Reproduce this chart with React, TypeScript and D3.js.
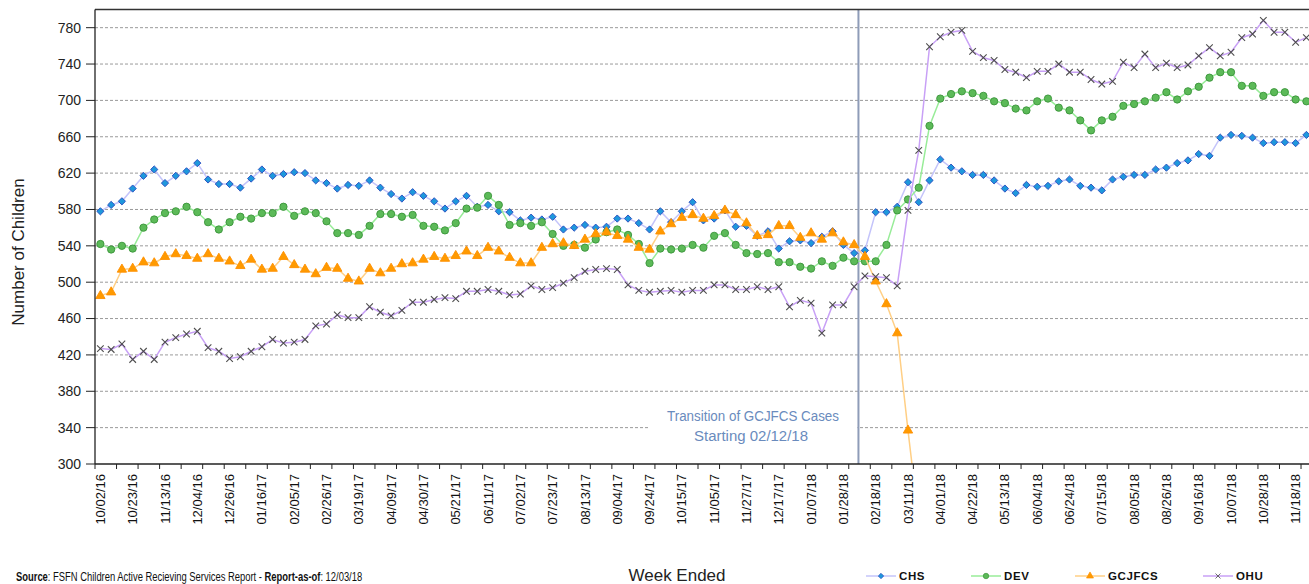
import React, { useLayoutEffect, useRef, useState } from 'react';
import * as d3 from 'd3';

const CHS = [578,585,589,603,617,624,609,617,622,631,613,608,608,604,614,624,617,619,621,620,612,609,603,607,606,612,604,597,592,599,595,589,581,589,595,583,585,578,577,568,571,569,572,558,560,563,560,561,570,570,565,558,578,566,578,588,568,570,579,561,562,551,556,537,545,546,543,550,556,541,532,535,577,577,583,610,588,612,635,626,622,618,618,612,603,598,607,605,606,611,613,606,604,601,613,616,618,618,624,626,631,634,641,639,659,662,661,659,653,654,654,653,662];
const DEV = [542,536,540,537,560,569,576,578,583,577,566,558,566,572,570,576,576,583,573,578,576,567,554,554,552,562,575,575,572,574,562,561,557,565,581,582,595,585,563,565,562,566,553,540,541,538,547,555,558,552,542,521,537,536,537,541,538,551,554,541,532,531,532,522,522,517,515,523,518,527,523,523,523,541,579,591,604,672,702,707,710,708,705,699,697,691,689,699,702,692,689,678,667,678,682,694,696,699,703,709,701,710,715,725,731,731,716,716,705,709,709,701,699];
const GCJFCS: (number | null)[] = [485,489,514,515,522,521,528,531,529,526,531,526,523,518,525,514,515,528,519,514,509,516,515,504,501,515,510,515,520,521,525,528,526,529,534,529,538,534,527,521,521,538,542,543,540,547,553,555,551,547,538,536,556,564,571,574,570,573,579,574,565,551,552,562,562,549,554,547,554,544,541,528,501,476,444,337,237,
  null,null,null,null,null,null,null,null,null,null,null,null,null,null,null,null,null,null,null,null,null,null,null,null,null,null,null,null,null,null,null,null,null,null,null,null];
const OHU = [427,426,432,415,424,415,434,439,443,446,428,424,416,418,424,429,437,433,434,437,452,454,464,461,461,473,467,463,469,478,478,481,483,482,490,490,492,490,486,487,496,492,494,499,505,512,514,515,514,497,491,489,490,491,489,491,491,497,497,492,492,495,492,495,473,480,477,444,475,475,495,507,506,505,496,579,645,759,770,775,777,754,747,744,734,731,725,732,732,740,731,731,723,718,721,742,736,751,736,741,736,739,749,758,749,753,769,773,788,775,775,764,769];

const X_TICK_LABELS = ['10/02/16','10/23/16','11/13/16','12/04/16','12/26/16','01/16/17','02/05/17','02/26/17','03/19/17','04/09/17','04/30/17','05/21/17','06/11/17','07/02/17','07/23/17','08/13/17','09/04/17','09/24/17','10/15/17','11/05/17','11/27/17','12/17/17','01/07/18','01/28/18','02/18/18','03/11/18','04/01/18','04/22/18','05/13/18','06/04/18','06/24/18','07/15/18','08/05/18','08/26/18','09/16/18','10/07/18','10/28/18','11/18/18'];
const Y_TICKS = [300,340,380,420,460,500,540,580,620,660,700,740,780];
const SERIES_NAMES = ['CHS','DEV','GCJFCS','OHU'];
const TRANSITION_POS = 70.4;

const N = CHS.length;
const FONT = "'Liberation Sans', Arial, sans-serif";

type Marker = 'diamond' | 'circle' | 'triangle' | 'x';
const STYLES: { line: string; fill: string; stroke: string; marker: Marker }[] = [
  { line: '#c4c4fa', fill: '#1e98dc', stroke: '#2b50c0', marker: 'diamond' },
  { line: '#98ec98', fill: '#5cba58', stroke: '#3a943a', marker: 'circle' },
  { line: '#ffcf85', fill: '#ff9a00', stroke: '#ff9000', marker: 'triangle' },
  { line: '#c8a0f6', fill: 'none', stroke: '#4e4e4e', marker: 'x' },
];

function markerPath(m: Marker): string {
  if (m === 'diamond') return d3.symbol(d3.symbolSquare, 26)() as string;
  if (m === 'circle') return d3.symbol(d3.symbolCircle, 42)() as string;
  if (m === 'triangle') return d3.symbol(d3.symbolTriangle, 38)() as string;
  return d3.symbol(d3.symbolX, 30)() as string;
}

function MarkerShape({ m, x, y, s }: { m: Marker; x: number; y: number; s: typeof STYLES[0] }) {
  const d = markerPath(m);
  const rot = m === 'diamond' ? ' rotate(45)' : '';
  return (
    <path
      d={d}
      transform={`translate(${x},${y})${rot}`}
      fill={s.fill}
      stroke={s.stroke}
      strokeWidth={m === 'x' ? 1.1 : 0.9}
    />
  );
}

function FittedText({ x, y, width, fontSize, children, fill }: { x: number; y: number; width: number; fontSize: number; children: React.ReactNode; fill: string }) {
  const ref = useRef<SVGTextElement>(null);
  const [sx, setSx] = useState(1);
  useLayoutEffect(() => {
    if (ref.current) {
      const w = ref.current.getBBox().width;
      if (w > 0) setSx(width / w);
    }
  }, [width]);
  return (
    <g transform={`translate(${x},${y}) scale(${sx},1)`}>
      <text ref={ref} x={0} y={0} fontSize={fontSize} fill={fill}>
        {children}
      </text>
    </g>
  );
}

export default function App() {
  const W = 1309, H = 584;
  const left = 95, top = 9.5, bottom = 464;
  const step = 10.768;
  const x = d3.scaleBand<number>().domain(d3.range(N)).range([left, left + N * step]);
  const cx = (i: number) => (x(i) as number) + x.bandwidth() / 2;
  const xLin = d3.scaleLinear().domain([0, N - 1]).range([cx(0), cx(N - 1)]);
  const y = d3.scaleLinear().domain([300, 800]).range([bottom, top]);

  const data = [CHS, DEV, GCJFCS, OHU] as (number | null)[][];
  const lineGen = d3
    .line<number | null>()
    .defined((d) => d != null)
    .x((_, i) => cx(i))
    .y((d) => y(d as number));

  const tickIdx = d3.range(0, N, 2);
  const labelIdx = X_TICK_LABELS.map((_, k) => k * 3);
  const transX = xLin(TRANSITION_POS);

  const legendItems = [
    { x1: 866, tx: 899 },
    { x1: 971, tx: 1004 },
    { x1: 1075, tx: 1108 },
    { x1: 1203, tx: 1236 },
  ];

  return (
    <svg width={W} height={H} style={{ position: 'absolute', left: 0, top: 0, display: 'block', background: '#fff' }} fontFamily={FONT}>
      <defs>
        <clipPath id="plotClip">
          <rect x={left} y={top} width={W - left} height={bottom - top} />
        </clipPath>
      </defs>
      <rect x={0} y={0} width={W} height={H} fill="#fff" />

      {/* gridlines */}
      {Y_TICKS.filter((t) => t > 300).map((t) => (
        <line key={t} x1={left} x2={W} y1={y(t)} y2={y(t)} stroke="#9a9a9a" strokeWidth={1} strokeDasharray="3,2" />
      ))}

      {/* transition annotation box */}
      <rect x={650} y={399} width={transX - 650 - 1} height={50} fill="#fff" />
      <text x={753} y={421} textAnchor="middle" fontSize={14} fill="#6a8bbd" textLength={172} lengthAdjust="spacingAndGlyphs">
        Transition of GCJFCS Cases
      </text>
      <text x={751} y={441} textAnchor="middle" fontSize={14} fill="#6a8bbd" textLength={114} lengthAdjust="spacingAndGlyphs">
        Starting 02/12/18
      </text>

      {/* transition vertical line */}
      <line x1={transX} x2={transX} y1={top} y2={bottom} stroke="#8e9cb8" strokeWidth={2} />

      {/* series */}
      <g clipPath="url(#plotClip)">
        {data.map((vals, si) => {
          const s = STYLES[si];
          return (
            <g key={SERIES_NAMES[si]}>
              <path d={lineGen(vals) as string} fill="none" stroke={s.line} strokeWidth={1.5} />
              {vals.map((v, i) =>
                v == null ? null : <MarkerShape key={i} m={s.marker} x={cx(i)} y={y(v)} s={s} />
              )}
            </g>
          );
        })}
      </g>

      {/* axes */}
      <line x1={left} x2={W} y1={top} y2={top} stroke="#333" strokeWidth={1.3} />
      <line x1={left} x2={left} y1={top} y2={bottom} stroke="#222" strokeWidth={1.3} />
      <line x1={left} x2={W} y1={bottom} y2={bottom} stroke="#222" strokeWidth={1.3} />
      {Y_TICKS.map((t) => (
        <g key={t}>
          <line x1={left - 9} x2={left} y1={y(t)} y2={y(t)} stroke="#222" strokeWidth={1} />
          <text x={81} y={y(t)} dy="0.35em" textAnchor="end" fontSize={14} fill="#222">
            {t}
          </text>
        </g>
      ))}
      {tickIdx.map((i) => (
        <line key={i} x1={x(i) as number} x2={x(i) as number} y1={bottom} y2={bottom + 5} stroke="#222" strokeWidth={1} />
      ))}
      {labelIdx.map((i, k) => (
        <text
          key={i}
          transform={`translate(${cx(i)},${bottom + 10}) rotate(-90)`}
          textAnchor="end"
          dy="0.35em"
          fontSize={13}
          fill="#111"
        >
          {X_TICK_LABELS[k]}
        </text>
      ))}

      {/* y axis title */}
      <text transform={`translate(24,${252}) rotate(-90)`} textAnchor="middle" fontSize={17} fill="#222">
        Number of Children
      </text>

      {/* footer */}
      <FittedText x={16} y={581} width={347} fontSize={12} fill="#111">
        <tspan fontWeight="bold">Source</tspan>
        <tspan>:  FSFN Children Active Recieving Services Report - </tspan>
        <tspan fontWeight="bold">Report-as-of</tspan>
        <tspan>: 12/03/18</tspan>
      </FittedText>
      <text x={677} y={581} textAnchor="middle" fontSize={17} fill="#222">
        Week Ended
      </text>

      {/* legend */}
      {legendItems.map((it, si) => {
        const s = STYLES[si];
        const ly = 576;
        return (
          <g key={SERIES_NAMES[si]}>
            <line x1={it.x1} x2={it.x1 + 30} y1={ly} y2={ly} stroke={s.line} strokeWidth={1.5} />
            <g transform={`translate(${it.x1 + 15},${ly}) scale(0.75)`}>
              <MarkerShape m={s.marker} x={0} y={0} s={s} />
            </g>
            <text x={it.tx} y={ly} dy="0.36em" fontSize={11.5} fontWeight="bold" fill="#111" letterSpacing={0.6}>
              {SERIES_NAMES[si]}
            </text>
          </g>
        );
      })}
    </svg>
  );
}
